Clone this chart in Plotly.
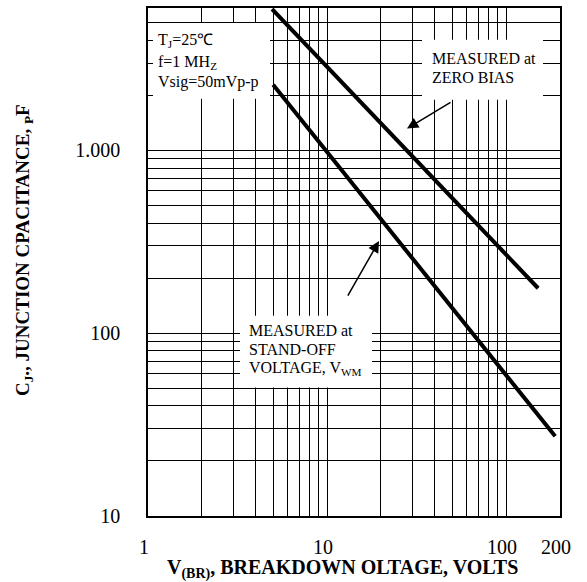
import plotly.graph_objects as go

# ---- data ----
zero_bias_v = [4.93, 151]
zero_bias_c = [5920, 176]
standoff_v = [5.0, 188]
standoff_c = [2280, 27.3]

x_grid = [2, 3, 4, 5, 6, 7, 8, 9, 20, 30, 40, 50, 60, 70, 80, 90]
x_label_vals = [1, 10, 100, 200]
x_label_text = ["1", "10", "100", "200"]

y_grid = [20, 30, 40, 50, 60, 70, 80, 90,
          200, 300, 400, 500, 600, 700, 800, 900,
          2000, 3000, 4000, 5000]
y_label_vals = [10, 100, 1000, 6000]
y_label_text = ["10", "100", "1.000", "6.000"]

FONT = "Liberation Serif, Times New Roman, serif"

# plot-area pixel frame (for placing notes in paper units)
PL, PR, PT, PB = 148, 560, 6, 516
W, H = 587, 582


def px(x):
    return (x - PL) / (PR - PL)


def py(y):
    return (PB - y) / (PB - PT)


fig = go.Figure()
fig.add_trace(go.Scatter(x=zero_bias_v, y=zero_bias_c, mode="lines",
                         line=dict(color="black", width=4), showlegend=False))
fig.add_trace(go.Scatter(x=standoff_v, y=standoff_c, mode="lines",
                         line=dict(color="black", width=4), showlegend=False))

axis_common = dict(
    type="log", showgrid=True, gridcolor="black", gridwidth=1,
    showline=True, linecolor="black", linewidth=1.5, mirror=True,
    ticks="", zeroline=False,
    tickfont=dict(family=FONT, size=20, color="black"),
    tickmode="array",
)

fig.update_xaxes(**axis_common, range=[0, 2.30103], tickvals=x_label_vals,
                 ticktext=x_label_text, ticklabelstandoff=12, ticklabelshift=-4,
                 minor=dict(tickmode="array", tickvals=x_grid, showgrid=True,
                            gridcolor="black", gridwidth=1, ticks=""))
fig.update_yaxes(**axis_common, range=[1, 3.77815], tickvals=y_label_vals,
                 ticktext=y_label_text, ticklabelstandoff=22,
                 minor=dict(tickmode="array", tickvals=y_grid, showgrid=True,
                            gridcolor="black", gridwidth=1, ticks=""))

# white boxes hiding the grid behind the notes
boxes = [(153, 21, 270, 97), (422, 38, 543, 98), (240, 315, 372, 387)]
for (x0, y0, x1, y1) in boxes:
    fig.add_shape(type="rect", xref="paper", yref="paper",
                  x0=px(x0), x1=px(x1), y0=py(y1), y1=py(y0),
                  fillcolor="white", line=dict(width=0), layer="above")

notes = [
    ("T<sub>J</sub>=25℃", 156, 39),
    ("f=1 MH<sub>Z</sub>", 156, 61),
    ("Vsig=50mVp-p", 156, 80),
    ("MEASURED at", 430, 57),
    ("ZERO BIAS", 430, 76),
    ("MEASURED at", 247, 330),
    ("STAND-OFF", 247, 349),
    ("VOLTAGE, V<sub>WM</sub>", 247, 368),
]
for text, x, y in notes:
    fig.add_annotation(text=text, xref="paper", yref="paper", x=px(x), y=py(y),
                       xanchor="left", yanchor="middle", showarrow=False,
                       font=dict(family=FONT, size=16, color="black"))

# arrows
fig.add_annotation(text="", xref="paper", yref="paper", x=px(407), y=py(127),
                   ax=45, ay=-27, showarrow=True, arrowhead=2, arrowsize=1.5,
                   arrowwidth=1.5, arrowcolor="black")
fig.add_annotation(text="", xref="paper", yref="paper", x=px(379), y=py(240),
                   ax=-32, ay=56, showarrow=True, arrowhead=2, arrowsize=1.5,
                   arrowwidth=1.5, arrowcolor="black")

# axis titles
fig.add_annotation(text="<b>V<sub>(BR)</sub>, BREAKDOWN OLTAGE, VOLTS</b>",
                   xref="paper", yref="paper", x=px(342), y=py(569),
                   xanchor="center", yanchor="middle", showarrow=False,
                   font=dict(family=FONT, size=20, color="black"))
fig.add_annotation(text="<b>C<sub>J</sub>., JUNCTION CPACITANCE, <sub>P</sub>F</b>",
                   xref="paper", yref="paper", x=px(24), y=py(249),
                   xanchor="center", yanchor="middle", showarrow=False,
                   textangle=-90,
                   font=dict(family=FONT, size=19, color="black"))

fig.update_layout(
    width=W, height=H, autosize=False,
    margin=dict(l=PL, r=W - PR, t=PT, b=H - PB),
    plot_bgcolor="white", paper_bgcolor="white",
    showlegend=False,
)

fig.write_html("out.html", config={"displayModeBar": False},
               post_script="document.body.style.margin='0';"
                           "document.body.style.overflow='hidden';")
